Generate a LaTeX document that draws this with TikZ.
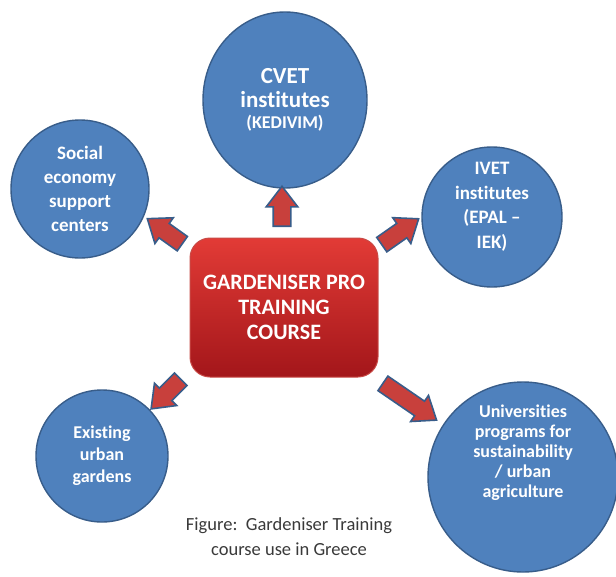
\documentclass[tikz,border=0pt]{standalone}
\usepackage{fontspec}
\setmainfont{Carlito}[Ligatures=NoCommon]
\usepackage{xcolor}
\usetikzlibrary{shapes.arrows,shapes.geometric}
\definecolor{bubfill}{HTML}{4F81BD}
\definecolor{bubline}{HTML}{385D8A}
\definecolor{arrfill}{HTML}{C8403C}
\definecolor{boxtop}{HTML}{E23B36}
\definecolor{boxbot}{HTML}{A3161A}
\definecolor{boxline}{HTML}{C84A46}
\definecolor{capt}{HTML}{3A3A3A}
\tikzset{
  bubble/.style={circle, fill=bubfill, draw=bubline, line width=1.4pt, text=white, align=center, inner sep=0pt},
  bubtext/.style={text=white, align=center, inner sep=0pt},
  blk/.style={single arrow, fill=arrfill, draw=bubline, line width=1.6pt, minimum width=30pt,
    single arrow head extend=7pt, single arrow head indent=0pt, single arrow tip angle=75,
    inner xsep=0pt, inner ysep=8pt},
  hub/.style={rounded corners=20pt, top color=boxtop, bottom color=boxbot, draw=boxline, line width=1pt,
    minimum width=188pt, minimum height=139pt, text=white, align=center},
}

\begin{document}
\begin{tikzpicture}[x=1pt, y=-1pt]
  \fill[white] (0,0) rectangle (616,576);
  \useasboundingbox (0,0) rectangle (616,576);

  % centre box
  \node[hub, font=\bfseries\fontsize{22}{25}\selectfont] (hub) at (284,307.5) {GARDENISER PRO\\TRAINING\\COURSE};

  % the five circles
  \node[bubble, ellipse, minimum width=164pt, minimum height=176pt, font=\bfseries\fontsize{23}{24}\selectfont] (cvet) at (285,100)
    {CVET\\institutes\\[-3pt]{\fontsize{18}{20}\selectfont (KEDIVIM)}};
  \node[bubble, minimum size=138pt, font=\bfseries\fontsize{19}{24}\selectfont] (social) at (80,189)
    {Social\\economy\\support\\centers};
  \node[bubble, minimum size=140pt] (ivet) at (492,217) {};
  \node[bubtext, font=\bfseries\fontsize{19}{24.5}\selectfont] (ivettxt) at (492,207)
    {IVET\\institutes\\(EPAL --\\IEK)};
  \node[bubble, minimum size=132pt, font=\bfseries\fontsize{18}{22}\selectfont] (exist) at (102,456)
    {Existing\\urban\\gardens};
  \node[bubble, minimum size=190pt] (uni) at (523,477) {};
  \node[bubtext, font=\bfseries\fontsize{18}{20}\selectfont] (unitxt) at (523,453)
    {Universities\\programs for\\sustainability\\/ urban\\agriculture};

  % block arrows out of the box
  \node[blk, minimum height=40pt, rotate=90] (toCvet) at (282,212) {};
  \node[blk, minimum height=43pt, rotate=144.5] (toSocial) at (169.5,234.5) {};
  \node[blk, minimum height=45pt, rotate=35] (toIvet) at (395.5,235) {};
  \node[blk, minimum height=42pt, rotate=225] (toExist) at (170,390) {};
  \node[blk, minimum height=65pt, rotate=-34.4] (toUni) at (405,398.5) {};

  \node[text=capt, align=center, font=\fontsize{18.5}{25}\selectfont] (caption) at (289,537)
    {Figure:\ \ Gardeniser Training\\course use in Greece};
\end{tikzpicture}
\end{document}
